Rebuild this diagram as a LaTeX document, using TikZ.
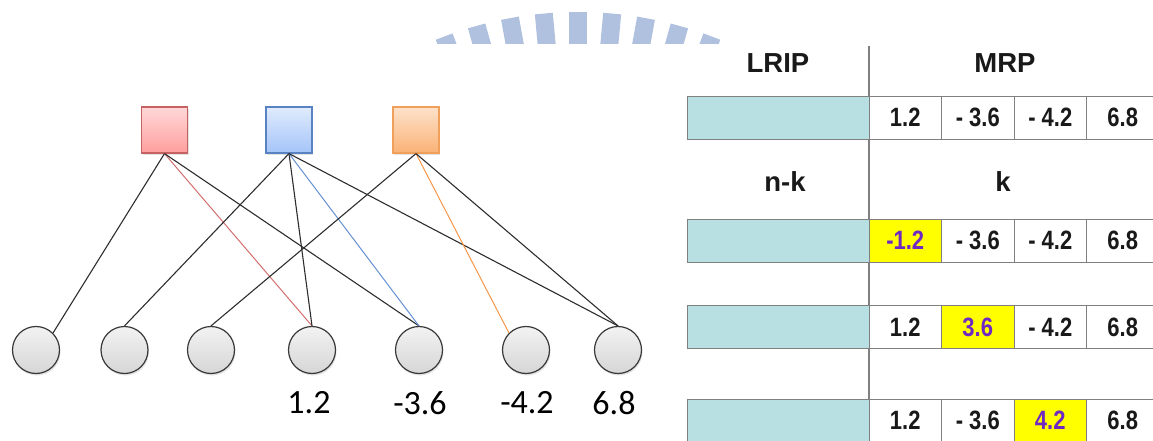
\documentclass[tikz,border=0pt]{standalone}
\usepackage{fontspec}
\setmainfont{Liberation Sans}
\newfontfamily\calib{Carlito}
\usetikzlibrary{shadows}

\definecolor{redTop}{RGB}{255,216,216}
\definecolor{redBot}{RGB}{255,158,158}
\definecolor{redRim}{RGB}{198,98,98}
\definecolor{blueTop}{RGB}{224,235,253}
\definecolor{blueBot}{RGB}{164,196,249}
\definecolor{blueRim}{RGB}{88,130,192}
\definecolor{orTop}{RGB}{253,226,202}
\definecolor{orBot}{RGB}{250,178,118}
\definecolor{orRim}{RGB}{240,160,90}
\definecolor{redEdge}{RGB}{212,110,110}
\definecolor{blueEdge}{RGB}{100,145,212}
\definecolor{orEdge}{RGB}{247,150,70}
\definecolor{edgeDark}{RGB}{45,45,45}
\definecolor{bitCyan}{RGB}{184,224,227}
\definecolor{hiYellow}{RGB}{255,255,0}
\definecolor{hiText}{RGB}{112,40,196}
\definecolor{rule}{RGB}{128,128,128}
\definecolor{cellText}{RGB}{25,25,25}
\definecolor{crest}{RGB}{176,193,223}

% narrow bold figures for the codeword cells
\newcommand{\narrowbits}[1]{\scalebox{0.83}[1]{#1}}

\tikzset{
  check/.style={rectangle, minimum width=46pt, minimum height=46pt, inner sep=0pt,
    line width=1.2pt, drop shadow={shadow xshift=1pt, shadow yshift=-2pt, opacity=0.22}},
  checkR/.style={check, draw=redRim, top color=redTop, bottom color=redBot},
  checkB/.style={check, draw=blueRim, top color=blueTop, bottom color=blueBot},
  checkO/.style={check, draw=orRim, top color=orTop, bottom color=orBot},
  var/.style={circle, minimum size=47pt, inner sep=0pt, draw=black!78, line width=1.2pt,
    top color=gray!10, bottom color=gray!32,
    drop shadow={shadow xshift=1pt, shadow yshift=-2pt, opacity=0.22}},
  edge/.style={draw=edgeDark, line width=1.1pt},
  edgeR/.style={draw=redEdge, line width=1pt},
  edgeB/.style={draw=blueEdge, line width=1pt},
  edgeO/.style={draw=orEdge, line width=1pt},
  val/.style={font=\calib\fontsize{34}{34}\selectfont, inner sep=0pt},
  head/.style={font=\bfseries\fontsize{27.5}{27.5}\selectfont, text=cellText, inner sep=0pt},
  lrip/.style={rectangle, draw=rule, line width=0.8pt, fill=bitCyan,
    minimum width=182pt, minimum height=43pt, inner sep=0pt},
  cell/.style={rectangle, draw=rule, line width=0.8pt, fill=white,
    minimum width=72.5pt, minimum height=43pt, inner sep=0pt,
    font=\bfseries\fontsize{26.5}{26.5}\selectfont, text=cellText},
  flip/.style={cell, fill=hiYellow, text=hiText},
}

\begin{document}
\begin{tikzpicture}[x=1pt,y=-1pt]
\useasboundingbox (0,0) rectangle (1153,441);

% faint crest behind the top of the page
\begin{scope}
  \clip (380,0) rectangle (780,44);
  \foreach \k in {-4,...,4}
    \fill[crest, rotate around={-5.2*\k:(578,389)}] (569,12) rectangle (587,70);
\end{scope}

% check nodes
\node[checkR] (c1) at (164.5,130) {};
\node[checkB] (c2) at (289,130) {};
\node[checkO] (c3) at (416,130) {};

% variable nodes
\node[var] (v1) at (36,350) {};
\node[var] (v2) at (124.5,350) {};
\node[var] (v3) at (211,350) {};
\node[var] (v4) at (312,350) {};
\node[var] (v5) at (419,350) {};
\node[var] (v6) at (526,350) {};
\node[var] (v7) at (618,350) {};

% edges
\draw[edge]  (c1.south) -- (v1.north east);
\draw[edgeR] (c1.south) -- (v4.north);
\draw[edge]  (c1.south) -- (v5.north);
\draw[edge]  (c2.south) -- (v2.north);
\draw[edge]  (c2.south) -- (v4.north);
\draw[edgeB] (c2.south) -- (v5.north);
\draw[edge]  (c2.south) -- (v7.north);
\draw[edge]  (c3.south) -- (v3.north);
\draw[edgeO] (c3.south) -- (v6.north west);
\draw[edge]  (c3.south) -- (v7.north);

% received values
\node[val] (x4) at (309,403) {1.2};
\node[val] (x5) at (420,403) {-3.6};
\node[val] (x6) at (527,403) {-4.2};
\node[val] (x7) at (614,403) {6.8};

% codeword layout
\coordinate (ruleTop) at (869,46);
\coordinate (ruleBot) at (869,441);
\draw[rule, line width=1.4pt] (ruleTop) -- (ruleBot);

\node[head] (hL) at (778,63) {LRIP};
\node[head] (hM) at (1005,63) {MRP};
\node[head] (hN) at (785,182) {n-k};
\node[head] (hK) at (1003,182) {k};

% row 1
\node[lrip] (r1p) at (778,117.5) {};
\node[cell] (r1a) at (905.25,117.5) {\narrowbits{1.2}};
\node[cell] (r1b) at (977.75,117.5) {\narrowbits{- 3.6}};
\node[cell] (r1c) at (1050.25,117.5) {\narrowbits{- 4.2}};
\node[cell] (r1d) at (1122.75,117.5) {\narrowbits{6.8}};
% row 2
\node[lrip] (r2p) at (778,240.5) {};
\node[flip] (r2a) at (905.25,240.5) {\narrowbits{-1.2}};
\node[cell] (r2b) at (977.75,240.5) {\narrowbits{- 3.6}};
\node[cell] (r2c) at (1050.25,240.5) {\narrowbits{- 4.2}};
\node[cell] (r2d) at (1122.75,240.5) {\narrowbits{6.8}};
% row 3
\node[lrip] (r3p) at (778,327) {};
\node[cell] (r3a) at (905.25,327) {\narrowbits{1.2}};
\node[flip] (r3b) at (977.75,327) {\narrowbits{3.6}};
\node[cell] (r3c) at (1050.25,327) {\narrowbits{- 4.2}};
\node[cell] (r3d) at (1122.75,327) {\narrowbits{6.8}};
% row 4
\node[lrip] (r4p) at (778,420.5) {};
\node[cell] (r4a) at (905.25,420.5) {\narrowbits{1.2}};
\node[cell] (r4b) at (977.75,420.5) {\narrowbits{- 3.6}};
\node[flip] (r4c) at (1050.25,420.5) {\narrowbits{4.2}};
\node[cell] (r4d) at (1122.75,420.5) {\narrowbits{6.8}};
\end{tikzpicture}
\end{document}
